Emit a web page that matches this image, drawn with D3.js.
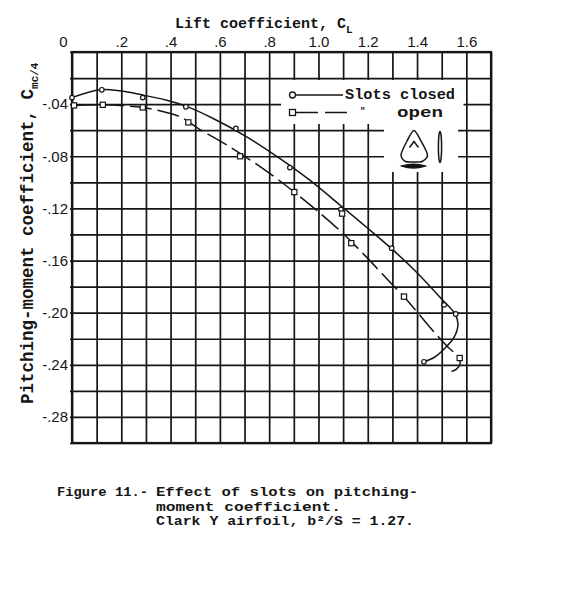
<!DOCTYPE html>
<html>
<head>
<meta charset="utf-8">
<script src="https://cdn.jsdelivr.net/npm/d3@7"></script>
<style>
  body { margin: 0; background: #fff; }
  svg { display: block; }
</style>
</head>
<body>
<script>
// tick labels
const xTicks = [0, 0.2, 0.4, 0.6, 0.8, 1.0, 1.2, 1.4, 1.6];
const xTickLabels = ["0", ".2", ".4", ".6", ".8", "1.0", "1.2", "1.4", "1.6"];
const yTicks = [-0.04, -0.08, -0.12, -0.16, -0.20, -0.24, -0.28];
const yTickLabels = ["-.04", "-.08", "-.12", "-.16", "-.20", "-.24", "-.28"];

// test points, slots closed (circles)
const closedCL = [0, 0.121, 0.287, 0.462, 0.665, 0.884, 1.091, 1.297, 1.51, 1.557, 1.428];
const closedCm = [-0.035, -0.029, -0.035, -0.042, -0.0587, -0.0887, -0.1208, -0.1505, -0.194, -0.201, -0.2377];

// test points, slots open (squares)
const openCL = [0.008, 0.125, 0.287, 0.472, 0.682, 0.902, 1.096, 1.133, 1.347, 1.573];
const openCm = [-0.041, -0.0405, -0.0425, -0.054, -0.080, -0.1075, -0.124, -0.1467, -0.1877, -0.2348];

// faired curves as drawn on the sheet
const closedCurveCL = [0, 0.114, 0.195, 0.287, 0.384, 0.462, 0.573, 0.709, 0.844, 0.966, 1.091, 1.195, 1.294, 1.398, 1.493, 1.554, 1.566, 1.55, 1.509, 1.469, 1.428];
const closedCurveCm = [-0.035, -0.029, -0.0298, -0.033, -0.037, -0.0415, -0.051, -0.0651, -0.0818, -0.0985, -0.118, -0.1345, -0.1505, -0.169, -0.1882, -0.201, -0.2087, -0.219, -0.228, -0.2344, -0.2377];
const openCurveCL = [0.008, 0.125, 0.287, 0.343, 0.438, 0.519, 0.641, 0.803, 0.902, 0.993, 1.101, 1.195, 1.303, 1.347, 1.47, 1.52, 1.57, 1.574, 1.56, 1.54];
const openCurveCm = [-0.041, -0.0405, -0.0425, -0.0446, -0.0497, -0.0595, -0.0728, -0.0933, -0.1075, -0.1215, -0.1395, -0.1574, -0.1792, -0.1877, -0.2151, -0.2254, -0.2348, -0.2395, -0.2433, -0.2451];

const ink = "#151515";
const mono = "'Liberation Mono', 'DejaVu Sans Mono', monospace";

const svg = d3.select("body").append("svg")
    .attr("width", 577)
    .attr("height", 593);

const x = d3.scaleLinear().domain([0, 1.7]).range([72, 491]);
const y = d3.scaleLinear().domain([0, -0.30]).range([52, 443]);
const plotH = y(-0.30) - y(0);
const plotW = x(1.7) - x(0);

// grid, every .1 in CL and .02 in Cm
const gridX = svg.append("g")
    .attr("transform", `translate(0,${y(0)})`)
    .call(d3.axisBottom(x).tickValues(d3.range(0, 18).map(i => i / 10)).tickSize(plotH).tickFormat(""));
const gridY = svg.append("g")
    .attr("transform", `translate(${x(0) - 2},0)`)
    .call(d3.axisRight(y).tickValues(d3.range(0, 16).map(i => -i / 50)).tickSize(plotW + 2).tickFormat(""));
[gridX, gridY].forEach(g => {
    g.select(".domain").remove();
    g.selectAll("line").attr("stroke", ink).attr("stroke-width", 1.7);
});

// the legend was pasted over the grid
svg.append("rect").attr("x", 281).attr("y", 80).attr("width", 182.5).attr("height", 44).attr("fill", "#fff");
svg.append("rect").attr("x", 384).attr("y", 120).attr("width", 74).attr("height", 52).attr("fill", "#fff");

// frame
svg.append("rect")
    .attr("x", x(0)).attr("y", y(0))
    .attr("width", plotW).attr("height", plotH)
    .attr("fill", "none").attr("stroke", ink).attr("stroke-width", 2.2);

// axes labels
const xAxis = svg.append("g")
    .attr("transform", `translate(0,${y(0)})`)
    .call(d3.axisTop(x).tickValues(xTicks).tickSize(0).tickPadding(5)
        .tickFormat((d, i) => xTickLabels[i]));
const yAxis = svg.append("g")
    .attr("transform", `translate(${x(0)},0)`)
    .call(d3.axisLeft(y).tickValues(yTicks).tickSize(0).tickPadding(4)
        .tickFormat((d, i) => yTickLabels[i]));
[xAxis, yAxis].forEach(g => {
    g.select(".domain").remove();
    g.selectAll("text")
        .attr("fill", ink)
        .style("font-family", "'Liberation Sans', Arial, sans-serif")
        .style("font-size", "15px");
});
xAxis.selectAll("text").filter((d, i) => i == 0).attr("dx", -9);

// titles
const xTitle = svg.append("text")
    .attr("x", 175).attr("y", 28)
    .attr("fill", ink)
    .style("font-family", mono).style("font-size", "15px").style("font-weight", "bold");
xTitle.append("tspan").text("Lift coefficient, C");
xTitle.append("tspan").attr("dy", 5).style("font-size", "11px").text("L");

const yTitle = svg.append("text")
    .attr("transform", "translate(33,404) rotate(-90)")
    .attr("fill", ink)
    .style("font-family", mono).style("font-size", "17.5px").style("font-weight", "bold");
yTitle.append("tspan").text("Pitching-moment coefficient, C");
yTitle.append("tspan").attr("dy", 5).style("font-size", "11px").text("mc/4");

// faired curves
const curve = d3.line()
    .x(d => x(d[0]))
    .y(d => y(d[1]))
    .curve(d3.curveCatmullRom.alpha(0.5));

svg.append("path")
    .datum(closedCurveCL.map((c, i) => [c, closedCurveCm[i]]))
    .attr("d", curve)
    .attr("fill", "none").attr("stroke", ink).attr("stroke-width", 1.5);

svg.append("path")
    .datum(openCurveCL.map((c, i) => [c, openCurveCm[i]]))
    .attr("d", curve)
    .attr("fill", "none").attr("stroke", ink).attr("stroke-width", 1.5)
    .attr("stroke-dasharray", "22,6");

// test points
svg.append("g").selectAll("circle")
    .data(closedCL.map((c, i) => [c, closedCm[i]]))
    .join("circle")
    .attr("cx", d => x(d[0])).attr("cy", d => y(d[1]))
    .attr("r", 2.3)
    .attr("fill", "#fff").attr("stroke", ink).attr("stroke-width", 1.2);

svg.append("g").selectAll("rect")
    .data(openCL.map((c, i) => [c, openCm[i]]))
    .join("rect")
    .attr("x", d => x(d[0]) - 2.6).attr("y", d => y(d[1]) - 2.6)
    .attr("width", 5.2).attr("height", 5.2)
    .attr("fill", "#fff").attr("stroke", ink).attr("stroke-width", 1.2);

// legend
const legend = svg.append("g").attr("fill", ink)
    .style("font-family", mono).style("font-size", "14.5px").style("font-weight", "bold");
legend.append("line").attr("x1", 296).attr("x2", 343).attr("y1", 95).attr("y2", 95)
    .attr("stroke", ink).attr("stroke-width", 1.4);
legend.append("circle").attr("cx", 292.5).attr("cy", 95).attr("r", 3)
    .attr("fill", "#fff").attr("stroke", ink).attr("stroke-width", 1.3);
legend.append("text").attr("x", 345).attr("y", 99)
    .attr("textLength", 110).attr("lengthAdjust", "spacingAndGlyphs").text("Slots closed");
legend.append("line").attr("x1", 296).attr("x2", 347).attr("y1", 112.5).attr("y2", 112.5)
    .attr("stroke", ink).attr("stroke-width", 1.4).attr("stroke-dasharray", "22,7");
legend.append("rect").attr("x", 289.5).attr("y", 109.5).attr("width", 6).attr("height", 6)
    .attr("fill", "#fff").attr("stroke", ink).attr("stroke-width", 1.3);
legend.append("text").attr("x", 360).attr("y", 114).style("font-size", "9px").text("\"");
legend.append("text").attr("x", 397).attr("y", 116.5)
    .attr("textLength", 46).attr("lengthAdjust", "spacingAndGlyphs").text("open");

// slot sketches
const sketch = svg.append("g").attr("fill", "none").attr("stroke", ink).attr("stroke-width", 1.5);
sketch.append("path")
    .attr("d", d3.line().curve(d3.curveCardinalClosed.tension(0.2))([
        [414, 130.5], [421, 141], [427.5, 155], [422, 161.5], [414, 162], [405.5, 161.5], [401, 155], [407, 141]
    ]));
sketch.append("path").attr("d", "M409.5,147.5 L414,141.5 L418.5,147.5");
sketch.append("ellipse").attr("cx", 440).attr("cy", 147).attr("rx", 1.6).attr("ry", 15.5);
sketch.append("path").attr("d", "M402,166 Q413.5,162.5 425,166 Q413.5,170 402,166 Z").attr("fill", ink);

// caption
const caption = svg.append("g").attr("fill", ink)
    .style("font-family", mono).style("font-size", "12.5px").style("font-weight", "bold");
caption.append("text").attr("x", 57).attr("y", 496)
    .attr("textLength", 91).attr("lengthAdjust", "spacingAndGlyphs").text("Figure 11.-");
caption.append("text").attr("x", 156).attr("y", 496)
    .attr("textLength", 262).attr("lengthAdjust", "spacingAndGlyphs").text("Effect of slots on pitching-");
caption.append("text").attr("x", 156).attr("y", 510.5)
    .attr("textLength", 185).attr("lengthAdjust", "spacingAndGlyphs").text("moment coefficient.");
caption.append("text").attr("x", 156).attr("y", 525)
    .attr("textLength", 258).attr("lengthAdjust", "spacingAndGlyphs").text("Clark Y airfoil, b²/S = 1.27.");
</script>
</body>
</html>
